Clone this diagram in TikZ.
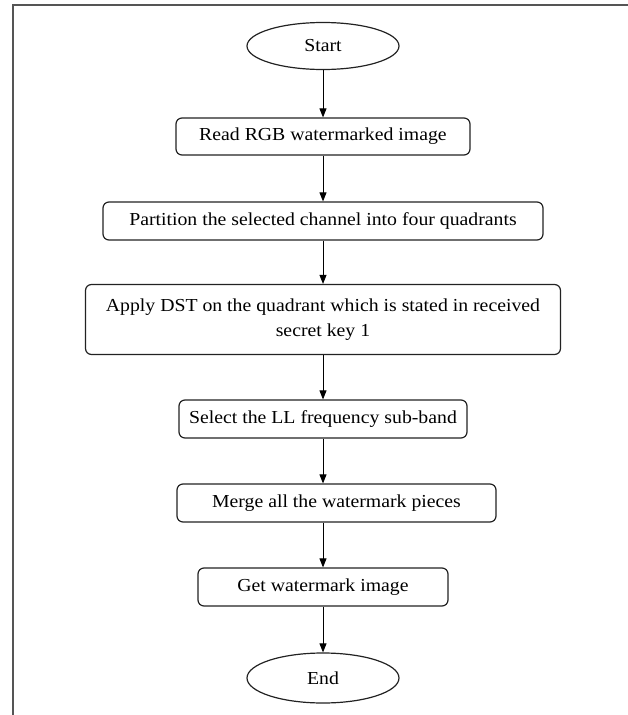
\documentclass[tikz,border=0pt]{standalone}
\usepackage{fontspec}
\setmainfont[FakeStretch=1.08]{Liberation Serif}
\usetikzlibrary{arrows.meta,shapes.geometric}
\definecolor{framegray}{HTML}{555555}
\definecolor{edge}{HTML}{222222}
\begin{document}
\begin{tikzpicture}[x=1pt,y=-1pt,
  every node/.style={font=\fontsize{18.3}{25}\selectfont, text=black},
  procbox/.style={draw=edge, line width=1.2pt, rounded corners=6pt,
    inner sep=0pt, align=center},
  terminal/.style={draw=edge, line width=1.2pt, ellipse, inner sep=0pt},
  flow/.style={draw=black, line width=0.9pt, -{Triangle[length=9pt,width=7pt]}}]
  \useasboundingbox (0,0) rectangle (628,715);
  % page frame (top and left rules)
  \draw[framegray, line width=1.6pt] (628,5) -- (13,5) -- (13,715);

  % terminals
  \node[terminal, minimum width=152pt, minimum height=47pt] (start) at (323,46) {Start};
  \node[terminal, minimum width=152pt, minimum height=50pt] (end) at (323,678) {End};

  % processing steps
  \node[procbox, minimum width=294pt, minimum height=37pt] (read) at (323,136.5)
    {Read RGB watermarked image};
  \node[procbox, minimum width=440pt, minimum height=38pt] (part) at (323,221)
    {Partition the selected channel into four quadrants};
  \node[procbox, minimum width=475pt, minimum height=70pt] (apply) at (323,319.5)
    {Apply DST on the quadrant which is stated in received\\secret key 1};
  \node[procbox, minimum width=288pt, minimum height=38pt] (select) at (323,419)
    {Select the LL frequency sub-band};
  \node[procbox, minimum width=319pt, minimum height=38pt] (merge) at (336.5,503)
    {Merge all the watermark pieces};
  \node[procbox, minimum width=250pt, minimum height=38pt] (get) at (323,587)
    {Get watermark image};

  % connectors
  \draw[flow] (start.south) -- (read.north);
  \draw[flow] (read.south) -- (part.north);
  \draw[flow] (part.south) -- (apply.north);
  \draw[flow] (apply.south) -- (select.north);
  \draw[flow] (select.south) -- (select.south |- merge.north);
  \draw[flow] (select.south |- merge.south) -- (get.north);
  \draw[flow] (get.south) -- (end.north);
\end{tikzpicture}
\end{document}
